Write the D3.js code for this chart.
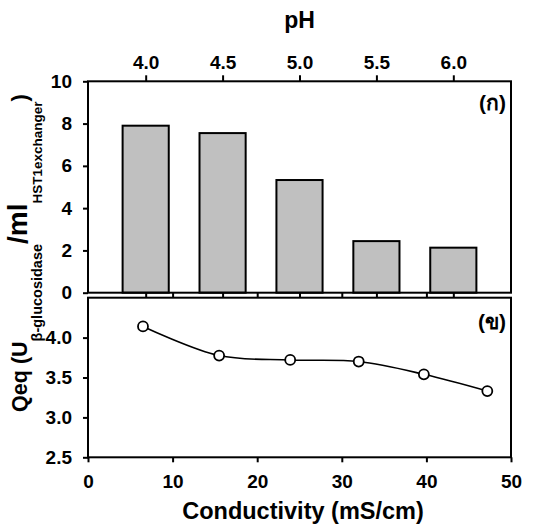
<!DOCTYPE html>
<html>
<head>
<meta charset="utf-8">
<script src="https://cdn.jsdelivr.net/npm/d3@7"></script>
<style>
  body { margin: 0; background: #fff; }
  text { font-family: "Liberation Sans", Arial, sans-serif; font-weight: bold; fill: #000; }
</style>
</head>
<body>
<svg id="chart" width="543" height="531"></svg>
<script>
// ---- data ----
const pHValues = [4.0, 4.5, 5.0, 5.5, 6.0];
const pHTickLabels = ["4.0", "4.5", "5.0", "5.5", "6.0"];
const barQeq = [7.9, 7.55, 5.33, 2.44, 2.13];
const conductivity = [6.5, 15.5, 23.9, 32.0, 39.7, 47.2];
const lineQeq = [4.14, 3.775, 3.72, 3.70, 3.54, 3.33];
const topYTicks = [0, 2, 4, 6, 8, 10];
const botYTicks = [2.5, 3.0, 3.5, 4.0];
const condTicks = [0, 10, 20, 30, 40, 50];

// ---- layout ----
const L = 88, R = 511;
const topT = 81.3, topB = 292.7;
const botT = 297.7, botB = 457.3;
const svg = d3.select("#chart");

const xPH = d3.scaleLinear().domain([3.625, 6.375]).range([L, R]);
const xC = d3.scaleLinear().domain([0, 50]).range([L, R]);
const yT = d3.scaleLinear().domain([0, 10]).range([topB, topT]);
const yB = d3.scaleLinear().domain([2.5, 4.5]).range([botB, botT]);

const TICK_FS = 19;
function styleAxis(g) {
  g.select(".domain").remove();
  g.selectAll(".tick line").attr("stroke", "#000").attr("stroke-width", 2);
  g.selectAll(".tick text").attr("font-size", TICK_FS)
    .attr("font-family", "'Liberation Sans', Arial, sans-serif").attr("font-weight", "bold");
}

// ---- bars (top panel) ----
const barHalf = 0.15;
svg.append("g").selectAll("rect").data(pHValues).join("rect")
  .attr("x", d => xPH(d - barHalf))
  .attr("width", d => xPH(d + barHalf) - xPH(d - barHalf))
  .attr("y", (d, i) => yT(barQeq[i]))
  .attr("height", (d, i) => yT(0) - yT(barQeq[i]))
  .attr("fill", "#c0c0c0").attr("stroke", "#000").attr("stroke-width", 2);

// top axis (pH)
svg.append("g").attr("transform", `translate(0,${topT})`)
  .call(d3.axisTop(xPH).tickValues(pHValues).tickFormat((d, i) => pHTickLabels[i]).tickSize(6).tickPadding(6))
  .call(styleAxis);
// pH ticks at bottom of top panel (into gap)
svg.append("g").attr("transform", `translate(0,${topB})`)
  .call(d3.axisBottom(xPH).tickValues(pHValues).tickFormat("").tickSize(5))
  .call(styleAxis);
// left axis top panel
svg.append("g").attr("transform", `translate(${L},0)`)
  .call(d3.axisLeft(yT).tickValues(topYTicks).tickFormat(d3.format("d")).tickSize(5).tickPadding(11))
  .call(styleAxis);

// frame top panel
svg.append("rect").attr("x", L).attr("y", topT).attr("width", R - L).attr("height", topB - topT)
  .attr("fill", "none").attr("stroke", "#000").attr("stroke-width", 2);

// ---- bottom panel ----
const line = d3.line().x((d, i) => xC(conductivity[i])).y(d => yB(d)).curve(d3.curveCatmullRom.alpha(0.5));
svg.append("path").datum(lineQeq).attr("d", line).attr("fill", "none").attr("stroke", "#000").attr("stroke-width", 1.6);
svg.append("g").selectAll("circle").data(lineQeq).join("circle")
  .attr("cx", (d, i) => xC(conductivity[i])).attr("cy", d => yB(d)).attr("r", 5)
  .attr("fill", "#fff").attr("stroke", "#000").attr("stroke-width", 1.8);

svg.append("g").attr("transform", `translate(0,${botB})`)
  .call(d3.axisBottom(xC).tickValues(condTicks).tickSize(5).tickPadding(12))
  .call(styleAxis);
svg.append("g").attr("transform", `translate(0,${botT})`)
  .call(d3.axisTop(xC).tickValues(condTicks.slice(1, -1)).tickFormat("").tickSize(5))
  .call(styleAxis);
svg.append("g").attr("transform", `translate(${L},0)`)
  .call(d3.axisLeft(yB).tickValues(botYTicks).tickFormat(d3.format(".1f")).tickSize(5).tickPadding(11))
  .call(styleAxis);

svg.append("rect").attr("x", L).attr("y", botT).attr("width", R - L).attr("height", botB - botT)
  .attr("fill", "none").attr("stroke", "#000").attr("stroke-width", 2);

// panel letters
svg.append("text").attr("x", 506).attr("y", 110).attr("text-anchor", "end").attr("font-size", 21).text("(ก)");
svg.append("text").attr("x", 506).attr("y", 329).attr("text-anchor", "end").attr("font-size", 21).text("(ข)");

// titles
svg.append("text").attr("x", 299.5).attr("y", 28).attr("text-anchor", "middle").attr("font-size", 23).text("pH");
svg.append("text").attr("x", 303).attr("y", 519).attr("text-anchor", "middle").attr("font-size", 23.5).text("Conductivity (mS/cm)");

const yl = svg.append("text").attr("transform", "translate(27,253) rotate(-90)").attr("text-anchor", "middle");
yl.append("tspan").attr("font-size", 21.5).text("Qeq (U");
yl.append("tspan").attr("font-size", 14.5).attr("dy", 15).text("β-glucosidase");
yl.append("tspan").attr("font-size", 28).attr("dy", -15).text("/ml");
yl.append("tspan").attr("font-size", 13.5).attr("dy", 15).text("HST1exchanger");
yl.append("tspan").attr("font-size", 22).attr("dy", -15).text(")");
</script>
</body>
</html>
